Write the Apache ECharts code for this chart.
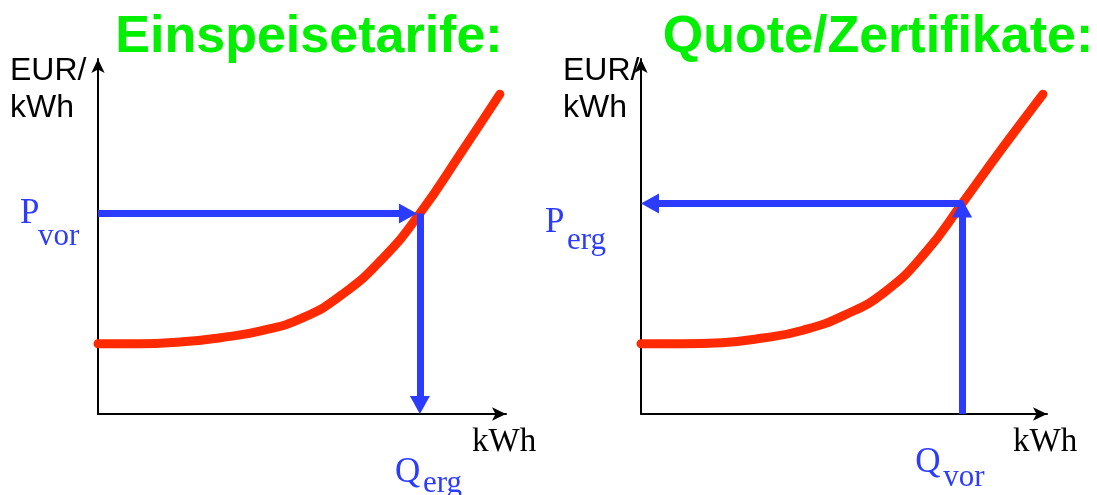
<!DOCTYPE html>
<html>
<head>
<meta charset="utf-8">
<script src="https://cdn.jsdelivr.net/npm/echarts@6/dist/echarts.min.js"></script>
<style>
    html, body { margin: 0; padding: 0; background: #fff; }
    #chart { width: 1097px; height: 495px; }
</style>
</head>
<body>
<div id="chart"></div>
<script>
// -------------------------------------------------
// data (normalised 0..100 on both axes)
// -------------------------------------------------
const titles = ["Einspeisetarife:", "Quote/Zertifikate:"];

const curveXLeft = [0, 10.0, 20.1, 30.1, 40.2, 50.0, 60.0, 70.1, 78.9, 89.0, 98.5];
const curveYLeft = [19.8, 19.8, 20.3, 21.5, 23.5, 27.0, 33.8, 44.2, 56.5, 73.6, 90.1];
const curveXRight = [0, 10.1, 19.9, 30.0, 39.9, 50.0, 60.1, 70.0, 79.1, 89.2, 99.0];
const curveYRight = [19.8, 19.8, 20.1, 21.4, 23.6, 27.8, 34.4, 45.4, 59.3, 75.2, 90.1];

// Einspeisetarif: price given, quantity results
const pVor = 56.5;
const qErg = 78.9;
// Quote: quantity given, price results
const qVor = 79.1;
const pErg = 59.3;

const RED = "#ff2a00";
const BLUE = "#2b3bff";
const GREEN = "#00f000";

const GRID_W = [408, 406];
const GRID_H = 355;
const ARROW_LEN = 18;   // blue arrow head length in px

function pairs(xs, ys) {
    return xs.map((x, i) => [x, ys[i]]);
}

// px -> axis units (axes run 0..100)
function ux(i, p) { return p * 100 / GRID_W[i]; }
function uy(p) { return p * 100 / GRID_H; }

const chart = echarts.init(document.getElementById("chart"));

function makeAxis(gridIndex) {
    return {
        type: "value",
        gridIndex: gridIndex,
        min: 0,
        max: 100,
        axisLine: {
            show: true,
            onZero: false,
            symbol: ["none", "arrow"],
            symbolSize: [10, 14],
            lineStyle: { color: "#000", width: 2 }
        },
        axisTick: { show: false },
        axisLabel: { show: false },
        splitLine: { show: false }
    };
}

function curveSeries(idx, data, arrows) {
    return {
        type: "line",
        xAxisIndex: idx,
        yAxisIndex: idx,
        data: data,
        smooth: 0.5,
        symbol: "none",
        lineStyle: { color: RED, width: 9, cap: "round", join: "round" },
        markLine: {
            silent: true,
            animation: false,
            symbol: ["none", "triangle"],
            symbolSize: [20, ARROW_LEN],
            label: { show: false },
            lineStyle: { color: BLUE, width: 7, type: "solid" },
            data: arrows
        },
        z: 3
    };
}

// arrow ends pulled back by half the head so the tip lands on the target
const half = ARROW_LEN / 2;

chart.setOption({
    animation: false,
    grid: [
        { left: 98, top: 59, width: GRID_W[0], height: GRID_H },
        { left: 641, top: 59, width: GRID_W[1], height: GRID_H }
    ],
    xAxis: [makeAxis(0), makeAxis(1)],
    yAxis: [makeAxis(0), makeAxis(1)],
    series: [
        curveSeries(0, pairs(curveXLeft, curveYLeft), [
            [{ coord: [0, pVor] }, { coord: [qErg - ux(0, half + 3), pVor] }],
            [{ coord: [qErg, pVor] }, { coord: [qErg, uy(half)] }]
        ]),
        curveSeries(1, pairs(curveXRight, curveYRight), [
            [{ coord: [qVor, pErg] }, { coord: [ux(1, half), pErg] }],
            [{ coord: [qVor, 0] }, { coord: [qVor, pErg - uy(half - 4)] }]
        ])
    ]
});

// -------------------------------------------------
// texts (titles, axis names, P/Q labels with subscripts)
// -------------------------------------------------
const sans = '"Liberation Sans", Arial, sans-serif';
const serif = '"Liberation Serif", "Times New Roman", serif';

function txt(text, x, y, font, fill, align) {
    return {
        type: "text",
        silent: true,
        style: {
            text: text, x: x, y: y, font: font, fill: fill,
            align: align || "left", verticalAlign: "middle"
        }
    };
}

function px(gridIdx, point) {
    return chart.convertToPixel({ gridIndex: gridIdx }, point);
}

const o0 = px(0, [0, 0]);
const o1 = px(1, [0, 0]);
const pv = px(0, [qErg, pVor]);
const pe = px(1, [qVor, pErg]);
const xEnd0 = px(0, [100, 0]);
const xEnd1 = px(1, [100, 0]);

const mainFont = "35px " + serif;
const subFont = "31px " + serif;

chart.setOption({
    graphic: [
        txt(titles[0], 309, 38, "bold 52px " + sans, GREEN, "center"),
        txt(titles[1], 878, 38, "bold 52px " + sans, GREEN, "center"),

        txt("EUR/", 10, 71, "32px " + sans, "#000"),
        txt("kWh", 10, 108, "32px " + sans, "#000"),
        txt("EUR/", 563, 71, "32px " + sans, "#000"),
        txt("kWh", 563, 108, "32px " + sans, "#000"),

        txt("kWh", xEnd0[0] - 34, o0[1] + 28, "33px " + serif, "#000"),
        txt("kWh", xEnd1[0] - 34, o1[1] + 28, "33px " + serif, "#000"),

        // P_vor / Q_erg
        txt("P", o0[0] - 78, pv[1], mainFont, BLUE),
        txt("vor", o0[0] - 60, pv[1] + 23, subFont, BLUE),
        txt("Q", pv[0] - 25, o0[1] + 59, mainFont, BLUE),
        txt("erg", pv[0] + 3, o0[1] + 70, subFont, BLUE),

        // P_erg / Q_vor
        txt("P", o1[0] - 96, pe[1] + 19, mainFont, BLUE),
        txt("erg", o1[0] - 74, pe[1] + 37, subFont, BLUE),
        txt("Q", pe[0] - 47, o1[1] + 49, mainFont, BLUE),
        txt("vor", pe[0] - 19, o1[1] + 64, subFont, BLUE)
    ]
});

window.addEventListener("resize", function () {
    chart.resize();
});
</script>
</body>
</html>
